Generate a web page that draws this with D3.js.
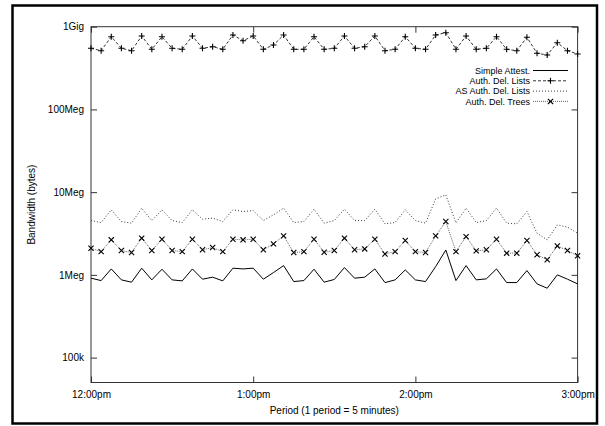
<!DOCTYPE html>
<html>
<head>
<meta charset="utf-8">
<script src="https://cdn.jsdelivr.net/npm/d3@7"></script>
<style>
  body { margin: 0; background: #fff; }
  text { font-family: "Liberation Sans", Arial, sans-serif; fill: #000; }
</style>
</head>
<body>
<svg id="chart" width="605" height="426"></svg>
<script>
// periods 0..48 across 12:00pm - 3:00pm, values in bytes (Meg)
const xTicks = [0, 16, 32, 48];
const xTickLabels = ["12:00pm", "1:00pm", "2:00pm", "3:00pm"];
const yTicks = [1e5, 1e6, 1e7, 1e8, 1e9];
const yTickLabels = ["100k", "1Meg", "10Meg", "100Meg", "1Gig"];

const simpleAttest = [0.912, 0.853, 1.18, 0.870, 0.816, 1.205, 0.870, 1.17, 0.870, 0.846,
  1.18, 0.887, 0.938, 0.846, 1.205, 1.18, 1.205, 0.887, 1.066, 1.295,
  0.830, 0.853, 1.17, 0.816, 0.880, 1.225, 0.912, 0.938, 1.18, 0.807,
  0.870, 1.149, 0.870, 0.830, 1.26, 2.0, 0.853, 1.295, 0.870, 0.895,
  1.18, 0.807, 0.807, 1.127, 0.778, 0.690, 1.0, 0.887, 0.778];

const authDelLists = [548, 513, 757, 548, 513, 772, 533, 757, 548, 533,
  772, 548, 573, 533, 794, 677, 772, 533, 601, 794,
  533, 533, 757, 533, 548, 772, 548, 573, 772, 513,
  533, 757, 548, 533, 794, 846, 533, 772, 533, 548,
  757, 533, 513, 744, 477, 455, 641, 513, 468];

const asAuthDelLists = [4.53, 4.29, 6.11, 4.41, 4.22, 6.41, 4.53, 6.11, 4.53, 4.29,
  6.11, 4.71, 4.85, 4.41, 6.11, 5.83, 5.99, 4.53, 5.32, 6.41,
  4.29, 4.41, 6.23, 4.22, 4.53, 6.23, 4.53, 4.53, 6.23, 4.14,
  4.29, 6.11, 4.53, 4.22, 8.30, 9.27, 4.25, 6.41, 4.29, 4.53,
  6.41, 4.22, 4.14, 5.83, 3.19, 2.65, 4.02, 3.78, 3.19];

const authDelTrees = [2.10, 1.91, 2.65, 1.97, 1.86, 2.78, 1.97, 2.70, 1.97, 1.91,
  2.70, 2.01, 2.14, 1.91, 2.70, 2.65, 2.70, 2.01, 2.37, 2.96,
  1.86, 1.91, 2.70, 1.88, 1.97, 2.78, 2.01, 2.06, 2.70, 1.79,
  1.91, 2.60, 1.91, 1.86, 2.96, 4.41, 1.91, 2.90, 1.95, 2.01,
  2.70, 1.83, 1.83, 2.60, 1.75, 1.52, 2.24, 1.97, 1.70];

const seriesNames = ["Simple Attest.", "Auth. Del. Lists", "AS Auth. Del. Lists", "Auth. Del. Trees"];

const svg = d3.select("#chart");
const plot = { left: 91, right: 577.6, top: 26.7, bottom: 382.5 };

// outer box
svg.append("rect")
  .attr("x", 12.5).attr("y", 5.5)
  .attr("width", 584.5).attr("height", 418)
  .attr("fill", "none")
  .attr("stroke", "#000")
  .attr("stroke-width", 2.5);

let x = d3.scaleLinear().domain([0, 48]).range([plot.left, plot.right]);
let y = d3.scaleLog().domain([5e4, 1e9]).range([plot.bottom, plot.top]);

// frame
svg.append("rect")
  .attr("x", plot.left).attr("y", plot.top)
  .attr("width", plot.right - plot.left)
  .attr("height", plot.bottom - plot.top)
  .attr("fill", "none")
  .attr("stroke", "#333")
  .attr("stroke-width", 1);

let styleAxis = (g) => {
  g.select(".domain").remove();
  g.selectAll("line").attr("stroke", "#333");
  g.selectAll("text")
    .style("font-family", "Liberation Sans, Arial, sans-serif")
    .style("font-size", "10px")
    .attr("fill", "#000");
};

svg.append("g")
  .attr("transform", `translate(${plot.left},0)`)
  .call(d3.axisLeft(y).tickValues(yTicks)
    .tickFormat((d, i) => yTickLabels[i])
    .tickSizeInner(-6).tickSizeOuter(0).tickPadding(7))
  .call(styleAxis);

svg.append("g")
  .attr("transform", `translate(${plot.right},0)`)
  .call(d3.axisRight(y).tickValues(yTicks).tickFormat("")
    .tickSizeInner(-6).tickSizeOuter(0))
  .call(styleAxis);

svg.append("g")
  .attr("transform", `translate(0,${plot.bottom})`)
  .call(d3.axisBottom(x).tickValues(xTicks)
    .tickFormat((d, i) => xTickLabels[i])
    .tickSizeInner(-6).tickSizeOuter(0).tickPadding(8))
  .call(styleAxis);

svg.append("g")
  .attr("transform", `translate(0,${plot.top})`)
  .call(d3.axisTop(x).tickValues(xTicks).tickFormat("")
    .tickSizeInner(-6).tickSizeOuter(0))
  .call(styleAxis);

// axis titles
svg.append("text")
  .attr("x", (plot.left + plot.right) / 2)
  .attr("y", 414)
  .attr("text-anchor", "middle")
  .attr("font-size", 10)
  .text("Period (1 period = 5 minutes)");

svg.append("text")
  .attr("transform", `translate(35, ${(plot.top + plot.bottom) / 2}) rotate(-90)`)
  .attr("text-anchor", "middle")
  .attr("font-size", 10)
  .text("Bandwidth (bytes)");

let line = d3.line()
  .x((d, i) => x(i))
  .y(d => y(d * 1e6));

let styles = [
  { data: simpleAttest, stroke: "#000", dash: null, width: 1, marker: null },
  { data: authDelLists, stroke: "#000", dash: "3,2", width: 0.8, marker: "plus" },
  { data: asAuthDelLists, stroke: "#222", dash: "1,2", width: 0.9, marker: null },
  { data: authDelTrees, stroke: "#555", dash: "1,1", width: 0.9, marker: "cross" }
];

let markerPath = (type, cx, cy) => {
  let s = type === "plus" ? 3 : 2.6;
  if (type === "plus") {
    return `M${cx - s},${cy}H${cx + s}M${cx},${cy - s}V${cy + s}`;
  }
  return `M${cx - s},${cy - s}L${cx + s},${cy + s}M${cx - s},${cy + s}L${cx + s},${cy - s}`;
};

let g = svg.append("g").attr("class", "series");

styles.forEach(s => {
  g.append("path")
    .datum(s.data)
    .attr("d", line)
    .attr("fill", "none")
    .attr("stroke", s.stroke)
    .attr("stroke-width", s.width)
    .attr("stroke-dasharray", s.dash);

  if (s.marker) {
    g.append("g")
      .selectAll("path")
      .data(s.data)
      .enter()
      .append("path")
      .attr("d", (d, i) => markerPath(s.marker, x(i), y(d * 1e6)))
      .attr("stroke", "#000")
      .attr("stroke-width", 1.1)
      .attr("fill", "none");
  }
});

// legend
let legend = svg.append("g").attr("class", "legend");
let legendY = [70.5, 80.8, 91.1, 101.4];

seriesNames.forEach((name, i) => {
  let s = styles[i];
  let ly = legendY[i];
  legend.append("text")
    .attr("x", 530)
    .attr("y", ly + 3.2)
    .attr("text-anchor", "end")
    .attr("font-size", 9)
    .text(name);
  legend.append("line")
    .attr("x1", 533).attr("x2", 568)
    .attr("y1", ly).attr("y2", ly)
    .attr("stroke", s.stroke)
    .attr("stroke-width", s.width)
    .attr("stroke-dasharray", s.dash);
  if (s.marker) {
    legend.append("path")
      .attr("d", markerPath(s.marker, 550.5, ly))
      .attr("stroke", "#000")
      .attr("stroke-width", 1.1)
      .attr("fill", "none");
  }
});
</script>
</body>
</html>
